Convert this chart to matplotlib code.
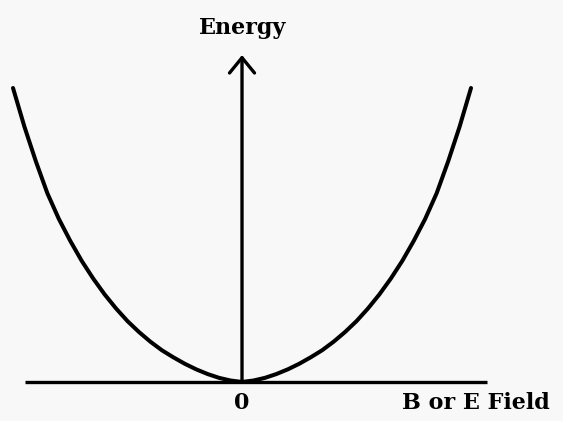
import numpy as np
import matplotlib.pyplot as plt

# field magnitude (arbitrary units) and energy, mirrored about 0
field_pos = [0.0, 0.05, 0.10, 0.15, 0.20, 0.25, 0.30, 0.35, 0.40, 0.45, 0.50,
             0.55, 0.60, 0.65, 0.70, 0.75, 0.80, 0.85, 0.90, 0.95, 1.0]
energy_pos = [0.0, 0.005, 0.014, 0.027, 0.043, 0.062, 0.084, 0.108, 0.137, 0.170, 0.207,
              0.250, 0.298, 0.352, 0.412, 0.480, 0.555, 0.642, 0.750, 0.868, 1.0]

field = [-f for f in field_pos[::-1]] + field_pos[1:]
energy = energy_pos[::-1] + energy_pos[1:]

x_label = "B or E Field"
y_label = "Energy"
origin_label = "0"

fig = plt.figure(figsize=(5.63, 4.21), dpi=100)
fig.patch.set_facecolor('#f8f8f8')
ax = fig.add_axes([0, 0, 1, 1])
ax.set_facecolor('#f8f8f8')
ax.set_xlim(-1.0568, 1.4017)
ax.set_ylim(-0.1327, 1.2993)
ax.axis('off')

# curve
ax.plot(field, energy, color='black', lw=2.9, solid_capstyle='round',
        solid_joinstyle='round', zorder=3)

# axes
ax.plot([-0.9476, 1.0699], [0, 0], color='black', lw=2.4, solid_capstyle='butt')
ax.annotate('', xy=(0, 1.112), xytext=(0, 0),
            arrowprops=dict(arrowstyle='->,head_length=0.55,head_width=0.45',
                            color='black', lw=2.4, mutation_scale=20,
                            shrinkA=0, shrinkB=0))

font = dict(family='DejaVu Serif', weight='bold', size=16)
ax.text(0.004, 1.204, y_label, ha='center', va='center', **font)
ax.text(0.0, -0.0714, origin_label, ha='center', va='center', **font)
ax.text(0.699, -0.0714, x_label, ha='left', va='center', **font)

fig.savefig('out.png', dpi=100, facecolor=fig.get_facecolor())
